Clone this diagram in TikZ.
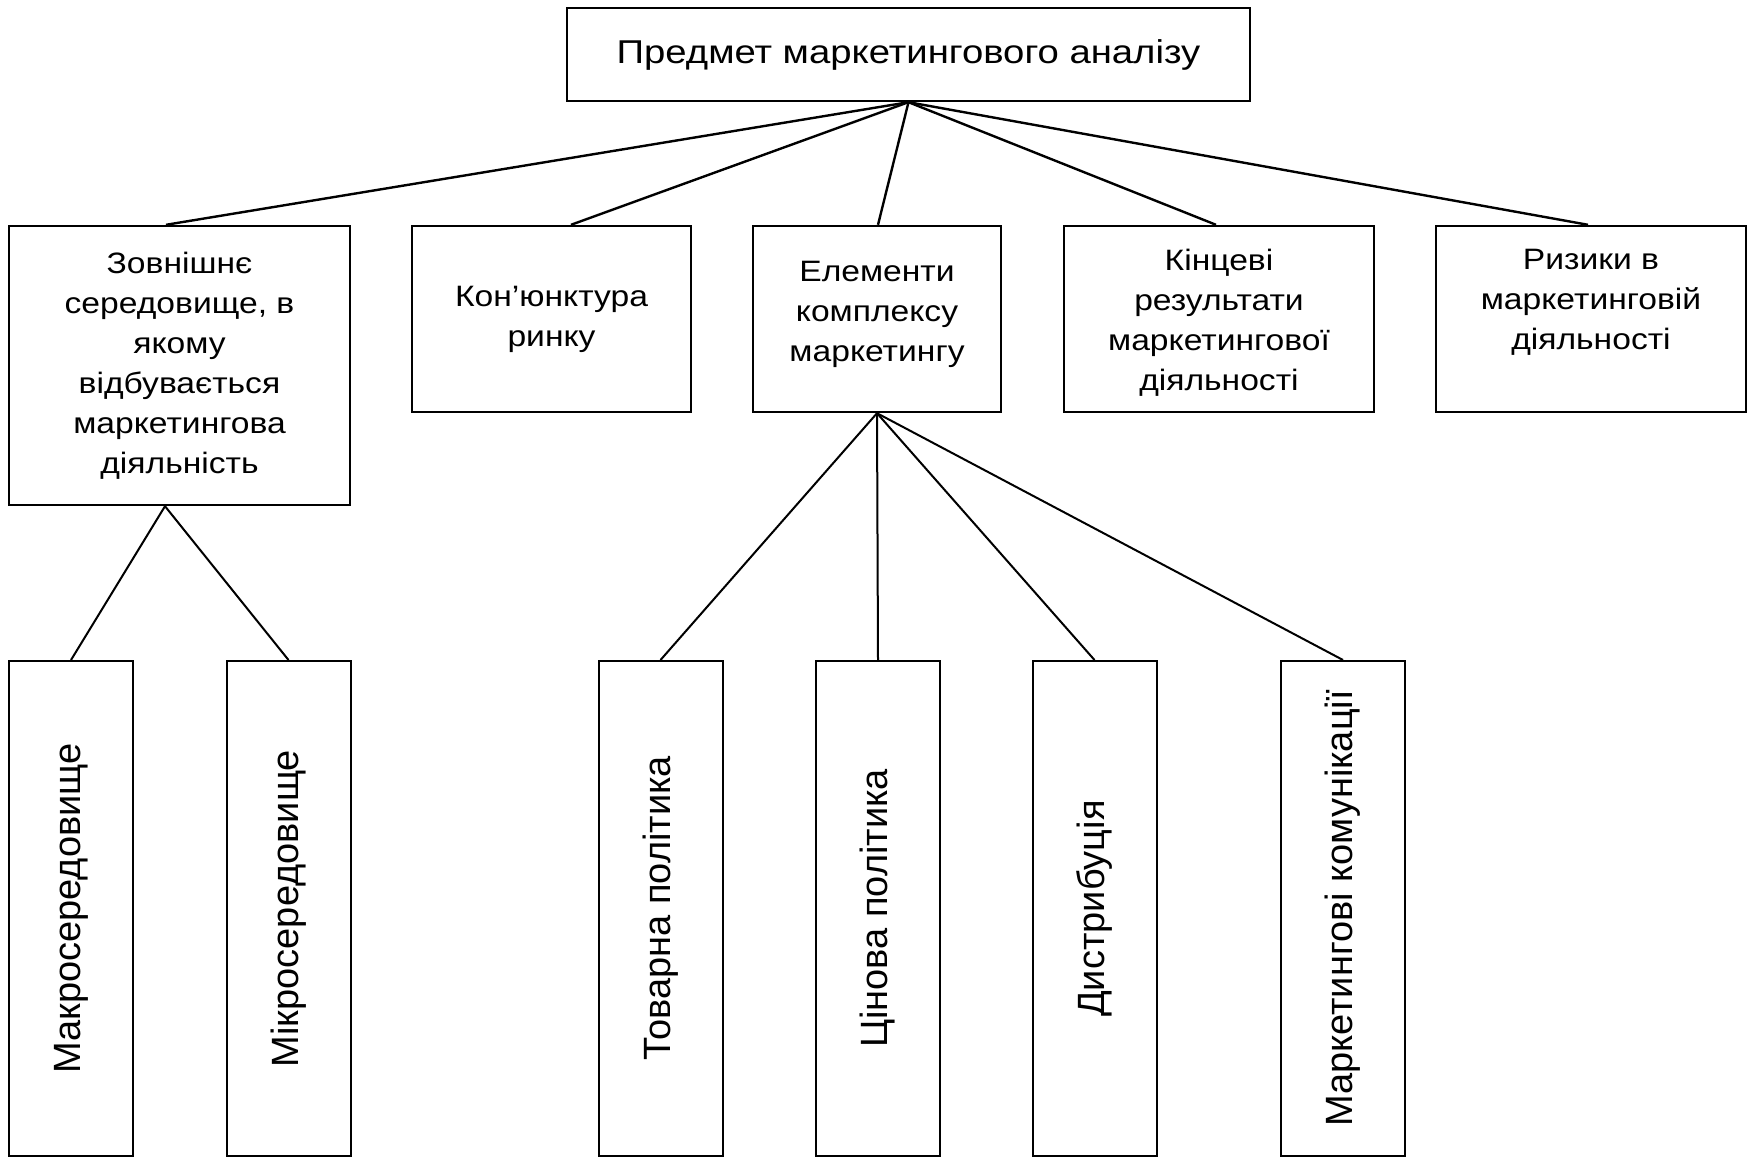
\documentclass[tikz,border=0pt]{standalone}
\usepackage{fontspec}
\setmainfont{Liberation Sans}
\newfontfamily\titlefont[FakeStretch=1.16]{Liberation Sans}
\newfontfamily\rowfont[FakeStretch=1.14]{Liberation Sans}
\begin{document}
\begin{tikzpicture}[x=1pt,y=-1pt,
  box/.style={draw=black, line width=2.4pt, inner sep=0pt, rectangle},
  lbox/.style={draw=black, line width=2pt, inner sep=0pt, rectangle, minimum width=124pt, minimum height=495pt},
  conn/.style={draw=black, line width=2.4pt},
  lconn/.style={draw=black, line width=2pt},
  rowtxt/.style={inner sep=0pt, align=center, font=\rowfont\fontsize{29.5}{40}\selectfont, anchor=north},
  vtxt/.style={inner sep=0pt, rotate=90, font=\fontsize{38}{46}\selectfont}]
\useasboundingbox (0,0) rectangle (1756,1158);
\fill[white] (0,0) rectangle (1756,1158);

% top
\node[box, minimum width=683pt, minimum height=93pt, font=\titlefont\fontsize{33}{40}\selectfont] (top) at (908.5,54.5) {Предмет маркетингового аналізу};

% row 2 boxes
\node[box, minimum width=341pt, minimum height=279pt] (b1) at (179.5,365.5) {};
\node[box, minimum width=279pt, minimum height=186pt] (b2) at (551.5,319) {};
\node[box, minimum width=248pt, minimum height=186pt] (b3) at (877,319) {};
\node[box, minimum width=310pt, minimum height=186pt] (b4) at (1219,319) {};
\node[box, minimum width=310pt, minimum height=186pt] (b5) at (1591,319) {};

\node[rowtxt] (t1) at ([yshift=-27pt]b1.north) {Зовнішнє\\середовище, в\\якому\\відбувається\\маркетингова\\діяльність};
\node[rowtxt] (t2) at ([yshift=-61pt]b2.north) {Кон’юнктура\\ринку};
\node[rowtxt] (t3) at ([yshift=-36pt]b3.north) {Елементи\\комплексу\\маркетингу};
\node[rowtxt] (t4) at ([yshift=-24pt]b4.north) {Кінцеві\\результати\\маркетингової\\діяльності};
\node[rowtxt] (t5) at ([yshift=-24pt]b5.north) {Ризики в\\маркетинговій\\діяльності};

% bottom boxes
\node[lbox] (c1) at (71,908.5) {};
\node[lbox] (c2) at (288.5,908.5) {};
\node[lbox] (c3) at (660.5,908.5) {};
\node[lbox] (c4) at (878,908.5) {};
\node[lbox] (c5) at (1094.5,908.5) {};
\node[lbox] (c6) at (1343,908.5) {};

\node[vtxt] (v1) at (c1) {Макросередовище};
\node[vtxt] (v2) at (c2) {Мікросередовище};
\node[vtxt] (v3) at (c3) {Товарна політика};
\node[vtxt] (v4) at (c4) {Цінова політика};
\node[vtxt] (v5) at (c5) {Дистрибуція};
\node[vtxt] (v6) at (c6) {Маркетингові комунікації};

% connectors
\draw[conn] (top.south) -- ([xshift=-13.5pt]b1.north);
\draw[conn] (top.south) -- ([xshift=19.5pt]b2.north);
\draw[conn] (top.south) -- ([xshift=1pt]b3.north);
\draw[conn] (top.south) -- ([xshift=-3pt]b4.north);
\draw[conn] (top.south) -- ([xshift=-3pt]b5.north);

\draw[lconn] ([xshift=-14.5pt]b1.south) -- (c1.north);
\draw[lconn] ([xshift=-14.5pt]b1.south) -- (c2.north);

\draw[lconn] (b3.south) -- (c3.north);
\draw[lconn] (b3.south) -- (c4.north);
\draw[lconn] (b3.south) -- (c5.north);
\draw[lconn] (b3.south) -- (c6.north);
\end{tikzpicture}
\end{document}
